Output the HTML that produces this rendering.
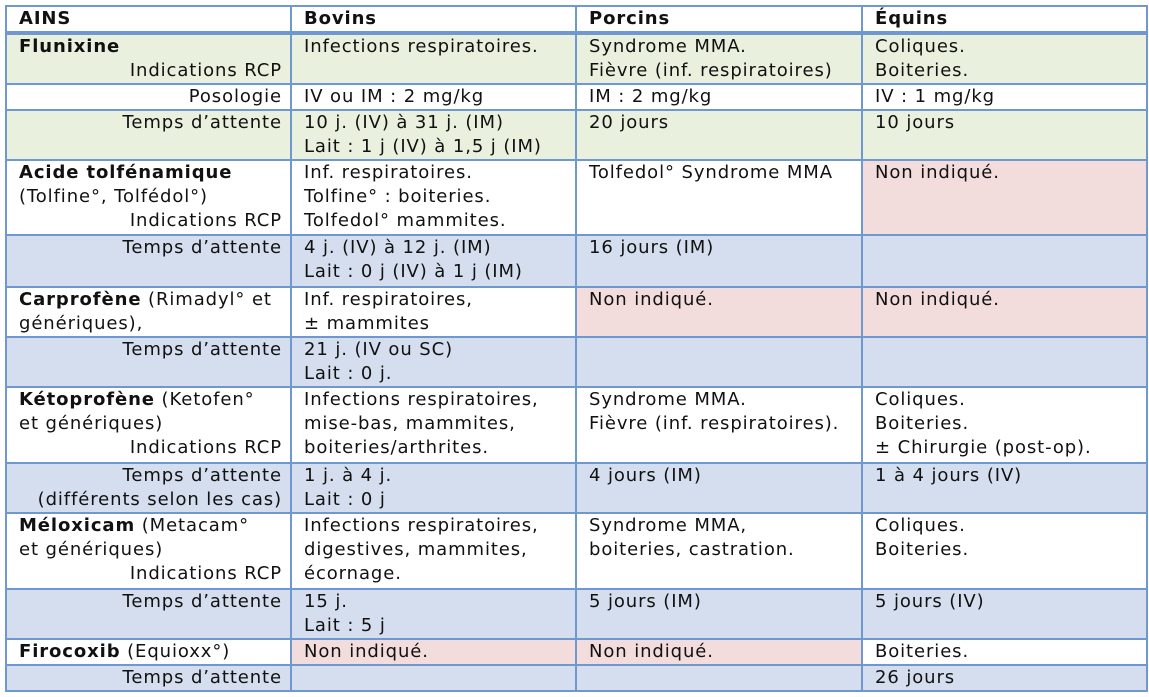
<!DOCTYPE html>
<html><head><meta charset="utf-8"><style>
html,body{margin:0;padding:0;background:#fff;width:1149px;height:697px;overflow:hidden}
table{position:absolute;left:5px;top:5px;border-collapse:collapse;table-layout:fixed;width:1141px;font-family:"DejaVu Sans","Liberation Sans",sans-serif;font-size:18px;letter-spacing:0.9px;color:#111}
td{border:2px solid #6e98cf;vertical-align:top;padding:0 8px 0 12px;line-height:24px;white-space:nowrap;overflow:hidden;box-sizing:border-box}
.r{text-align:right}
.g{background:#e9f0dd}.b{background:#d4deee}.p{background:#f3dcdc}
tr.h td{border-bottom:4px solid #6e98cf;font-weight:bold;padding-top:0}
b{font-weight:bold}
</style></head><body>
<table>
<colgroup><col style="width:285px"><col style="width:285px"><col style="width:286px"><col style="width:285px"></colgroup>
<tr class="h" style="height:26px"><td>AINS</td><td>Bovins</td><td>Porcins</td><td>Équins</td></tr>
<tr style="height:49px" class="g"><td><b>Flunixine</b><div class="r">Indications RCP</div></td><td>Infections respiratoires.</td><td>Syndrome MMA.<br>Fièvre (inf. respiratoires)</td><td>Coliques.<br>Boiteries.</td></tr>
<tr style="height:24px"><td class="r">Posologie</td><td>IV ou IM : 2 mg/kg</td><td>IM : 2 mg/kg</td><td>IV : 1 mg/kg</td></tr>
<tr style="height:48px" class="g"><td class="r">Temps d’attente</td><td>10 j. (IV) à 31 j. (IM)<br>Lait : 1 j (IV) à 1,5 j (IM)</td><td>20 jours</td><td>10 jours</td></tr>
<tr style="height:75px"><td><b>Acide tolfénamique</b><br>(Tolfine°, Tolfédol°)<div class="r">Indications RCP</div></td><td>Inf. respiratoires.<br>Tolfine° : boiteries.<br>Tolfedol° mammites.</td><td>Tolfedol° Syndrome MMA</td><td class="p">Non indiqué.</td></tr>
<tr style="height:52px" class="b"><td class="r">Temps d’attente</td><td>4 j. (IV) à 12 j. (IM)<br>Lait : 0 j (IV) à 1 j (IM)</td><td>16 jours (IM)</td><td></td></tr>
<tr style="height:48px"><td><b>Carprofène</b> (Rimadyl° et<br>génériques),</td><td>Inf. respiratoires,<br>± mammites</td><td class="p">Non indiqué.</td><td class="p">Non indiqué.</td></tr>
<tr style="height:48px" class="b"><td class="r">Temps d’attente</td><td>21 j. (IV ou SC)<br>Lait : 0 j.</td><td></td><td></td></tr>
<tr style="height:76px"><td><b>Kétoprofène</b> (Ketofen°<br>et génériques)<div class="r">Indications RCP</div></td><td>Infections respiratoires,<br>mise-bas, mammites,<br>boiteries/arthrites.</td><td>Syndrome MMA.<br>Fièvre (inf. respiratoires).</td><td>Coliques.<br>Boiteries.<br>± Chirurgie (post-op).</td></tr>
<tr style="height:48px" class="b"><td class="r">Temps d’attente<br>(différents selon les cas)</td><td>1 j. à 4 j.<br>Lait : 0 j</td><td>4 jours (IM)</td><td>1 à 4 jours (IV)</td></tr>
<tr style="height:76px"><td><b>Méloxicam</b> (Metacam°<br>et génériques)<div class="r">Indications RCP</div></td><td>Infections respiratoires,<br>digestives, mammites,<br>écornage.</td><td>Syndrome MMA,<br>boiteries, castration.</td><td>Coliques.<br>Boiteries.</td></tr>
<tr style="height:50px" class="b"><td class="r">Temps d’attente</td><td>15 j.<br>Lait : 5 j</td><td>5 jours (IM)</td><td>5 jours (IV)</td></tr>
<tr style="height:23px"><td><b>Firocoxib</b> (Equioxx°)</td><td class="p">Non indiqué.</td><td class="p">Non indiqué.</td><td>Boiteries.</td></tr>
<tr style="height:25px" class="b"><td class="r">Temps d’attente</td><td></td><td></td><td>26 jours</td></tr>
</table>
</body></html>
